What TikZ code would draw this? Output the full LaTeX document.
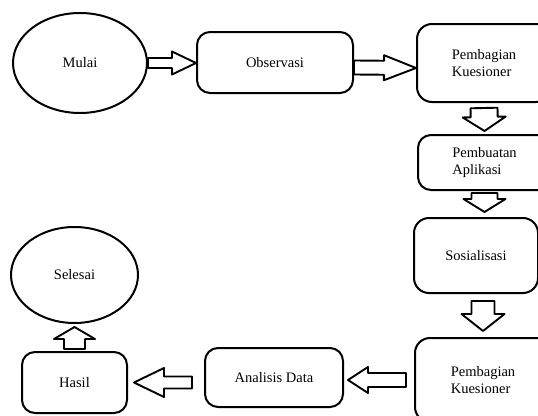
\documentclass[tikz,border=0pt]{standalone}
\usepackage{fontspec}
\setmainfont{Liberation Serif}
\usetikzlibrary{calc,shapes.geometric}

% hollow block arrow: start, tip, shaft half width, head half width, head length
\newcommand{\fatarrow}[5]{%
  \draw[fat] ($(#1)!#3!90:(#2)$) -- ($(#2)!#5!(#1)!#3!-90:(#1)$) -- ($(#2)!#5!(#1)!#4!-90:(#1)$)
    -- (#2) -- ($(#2)!#5!(#1)!#4!90:(#1)$) -- ($(#2)!#5!(#1)!#3!90:(#1)$) -- ($(#1)!#3!-90:(#2)$) -- cycle;}

\begin{document}
\begin{tikzpicture}[x=1pt, y=-1pt, line join=round, font=\fontsize{14.5}{17.5}\selectfont,
    term/.style={draw, ellipse, line width=2pt, inner sep=0pt},
    proc/.style={draw, rectangle, rounded corners=13pt, line width=2pt, align=left, inner sep=0pt},
    fat/.style={draw, fill=white, line width=1.9pt}]
	\useasboundingbox (0,0) rectangle (538,415);
	\clip (0,0) rectangle (538,415);

	\node[term, minimum width=134pt, minimum height=100pt] (mulai) at (80,63) {Mulai};
	\node[proc, minimum width=156pt, minimum height=61pt] (obs) at (275,62.5) {Observasi};
	\node[proc, minimum width=134pt, minimum height=78pt, rounded corners=15pt] (pk1) at (484,63) {Pembagian\\Kuesioner};
	\node[proc, minimum width=133pt, minimum height=55pt] (pa) at (484.5,162.5) {Pembuatan\\Aplikasi};
	\node[proc, minimum width=124pt, minimum height=75pt, rounded corners=15pt] (sos) at (476,255.5) {Sosialisasi};
	\node[proc, minimum width=136pt, minimum height=84pt, rounded corners=15pt] (pk2) at (483,380) {Pembagian\\Kuesioner};
	\node[proc, minimum width=138pt, minimum height=59pt] (ad) at (274,377.5) {Analisis Data};
	\node[proc, minimum width=105pt, minimum height=61pt] (hasil) at (74.5,382.5) {Hasil};
	\node[term, minimum width=127pt, minimum height=96pt] (selesai) at (74.5,275) {Selesai};

	\fatarrow{mulai.east}{obs.west |- mulai.east}{5pt}{11.5pt}{24pt}
	\fatarrow{[yshift=-5pt]obs.east}{[yshift=-5pt]pk1.west}{7pt}{12.5pt}{32pt}
	\fatarrow{[yshift=-5pt]pk1.south}{[yshift=3pt]pa.north}{13.5pt}{21.5pt}{14pt}
	\fatarrow{[yshift=-2pt]pa.south}{[yshift=5pt]pa.south |- sos.north}{13pt}{21pt}{13pt}
	\fatarrow{[yshift=-7pt]sos.south -| pk2.north}{[yshift=6pt]pk2.north}{11.5pt}{21.5pt}{17pt}
	\fatarrow{[xshift=-8pt]pk2.west}{[xshift=4pt]ad.east |- pk2.west}{7pt}{13pt}{20pt}
	\fatarrow{[xshift=-12pt]ad.west |- hasil.east}{[xshift=6pt]hasil.east}{6pt}{14.5pt}{30pt}
	\fatarrow{[yshift=2pt]hasil.north}{[yshift=-3pt]selesai.south}{10.5pt}{20.5pt}{12pt}
\end{tikzpicture}
\end{document}
